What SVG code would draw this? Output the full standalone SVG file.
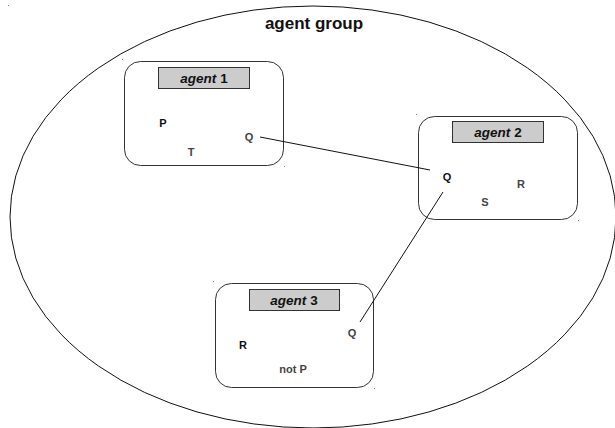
<svg xmlns="http://www.w3.org/2000/svg" width="615" height="428" viewBox="0 0 615 428">
<style>
.box{fill:none;stroke:#333;stroke-width:1}
.lbl{fill:#cccccc;stroke:#333;stroke-width:1}
.lt{font-family:"Liberation Sans",Arial,sans-serif;font-size:13.5px;font-weight:bold;fill:#111;text-anchor:middle}
.v{font-family:"Liberation Sans",Arial,sans-serif;font-size:11px;font-weight:bold;text-anchor:middle}
.k{fill:#111}
.g{fill:#444}
.c{stroke:#111;stroke-width:1;fill:none}
.dot{fill:#888}
</style>
<rect width="615" height="428" fill="#fff"/>
<g id="group">
<ellipse cx="313" cy="217" rx="303" ry="211" fill="none" stroke="#111" stroke-width="1"/>
<text x="314" y="29" font-family="Liberation Sans,Arial,sans-serif" font-size="17" font-weight="bold" text-anchor="middle" fill="#111">agent group</text>
</g>
<g id="agent1">
<rect class="box" x="124.5" y="61.5" width="159" height="104" rx="16"/>
<rect class="lbl" x="158.5" y="67.5" width="91" height="21"/>
<text class="lt" x="204" y="83"><tspan font-style="italic">agent</tspan> 1</text>
<text class="v k" x="163" y="127">P</text>
<text class="v g" x="249" y="141">Q</text>
<text class="v g" x="191" y="156">T</text>
</g>
<g id="agent2">
<rect class="box" x="418.5" y="116.5" width="159" height="103" rx="16"/>
<rect class="lbl" x="452.5" y="121.5" width="91" height="21"/>
<text class="lt" x="498" y="137"><tspan font-style="italic">agent</tspan> 2</text>
<text class="v k" x="447" y="181">Q</text>
<text class="v g" x="521" y="188">R</text>
<text class="v g" x="485" y="206">S</text>
</g>
<g id="agent3">
<rect class="box" x="215.5" y="283.5" width="158" height="104" rx="16"/>
<rect class="lbl" x="249.5" y="289.5" width="90" height="21"/>
<text class="lt" x="294" y="305"><tspan font-style="italic">agent</tspan> 3</text>
<text class="v g" x="352" y="337">Q</text>
<text class="v k" x="243" y="349">R</text>
<text class="v g" x="293" y="373">not P</text>
</g>
<g id="connectors">
<line class="c" x1="260" y1="137" x2="430" y2="170"/>
<line class="c" x1="443" y1="192" x2="360" y2="322"/>
</g>
<g id="specks">
<rect class="dot" x="8" y="5" width="1" height="1"/>
<rect class="dot" x="122" y="59" width="1" height="1"/>
<rect class="dot" x="284" y="166" width="1" height="1"/>
<rect class="dot" x="416" y="114" width="1" height="1"/>
<rect class="dot" x="578" y="220" width="1" height="1"/>
<rect class="dot" x="213" y="281" width="1" height="1"/>
<rect class="dot" x="374" y="388" width="1" height="1"/>
</g>
</svg>
